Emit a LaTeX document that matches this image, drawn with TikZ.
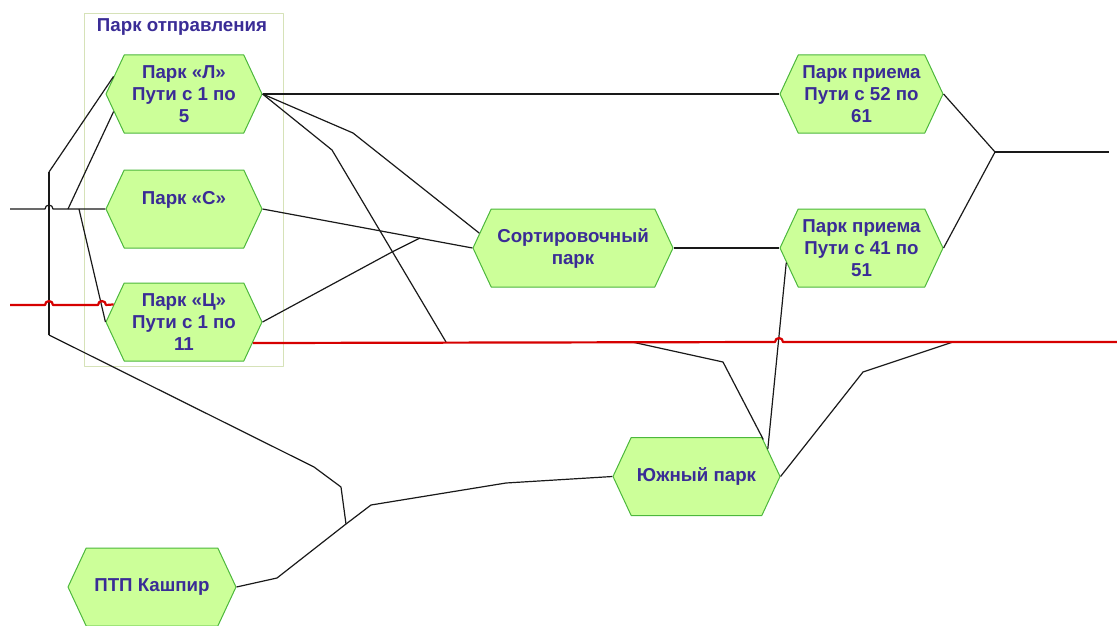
\documentclass[tikz,border=0pt]{standalone}
\usepackage{fontspec}
\setmainfont{Liberation Sans}
\usetikzlibrary{shapes,shapes.symbols,positioning,backgrounds,calc}
\definecolor{parkfill}{RGB}{204,255,153}
\definecolor{parkdraw}{RGB}{76,184,60}
\definecolor{parktext}{RGB}{58,44,150}
\definecolor{boxdraw}{RGB}{214,226,184}
\definecolor{mainline}{RGB}{214,0,0}
\begin{document}
\begin{tikzpicture}[x=1pt,y=-1pt,line join=round,
        park/.style={signal,signal to=east and west,signal pointer angle=130,
          minimum width=156pt,minimum height=78pt,inner sep=0pt,draw=parkdraw,line width=1pt,
          fill=parkfill,text=parktext,align=center,font=\bfseries\fontsize{18.7}{22}\selectfont},
        track/.style={draw=black!90,line width=1.2pt},
        redtrack/.style={draw=mainline,line width=2.2pt}]

        \useasboundingbox (0,0) rectangle (1117,626);

        \draw[boxdraw,line width=1pt] (84,14) rectangle (283,366);
        \node[text=parktext,font=\bfseries\fontsize{18.7}{22}\selectfont] (title) at (182,27) {Парк отправления};

        \node [park]                      (L)    at (184,94)  {Парк «Л»\\Пути с 1 по\\5};
        \node [park]                      (C)    [below of=L,node distance=115pt] {Парк «С»\\ \mbox{}};
        \node [park]                      (Ts)   [below of=C,node distance=113pt] {Парк «Ц»\\Пути с 1 по\\11};
        \node [park,minimum width=200pt]  (Sort) at (573,248) {Сортировочный\\парк};
        \node [park,minimum width=163pt]  (P41)  [right of=Sort,node distance=288.5pt] {Парк приема\\Пути с 41 по\\51};
        \node [park,minimum width=163pt]  (P52)  [above of=P41,node distance=154pt] {Парк приема\\Пути с 52 по\\61};
        \node [park,minimum width=167pt]  (Ug)   at (696.5,476.5) {Южный парк};
        \node [park,minimum width=168pt]  (PTP)  at (152,587) {ПТП Кашпир};

        \coordinate (w1)   at (10,209);
        \coordinate (w2)   at (10,305);
        \coordinate (vt)   at (49,172);
        \coordinate (vb)   at (49,335);
        \coordinate (jn)   at (995,152);
        \coordinate (e1)   at (1109,152);
        \coordinate (e2)   at (1117,342);
        \coordinate (ptpj) at (346,524);

        \path[track]
          (L.east)    edge (P52.west)
          (C.east)    edge (Sort.west)
          (Sort.east) edge (P41.west)
          (P52.east)  edge (jn)
          (P41.east)  edge (jn)
          (jn)        edge (e1)
          (vt)        edge (vb)
          (vt)        edge (L.166)
          (68,209)    edge (L.194)
          (79,209)    edge (Ts.west)
          (Ug.21)     edge (P41.191)
        ;

        \draw[track] (w1) -- (45,209) arc[start angle=180,end angle=360,radius=4] -- (C.west);
        \draw[track] (L.east) -- (332,150) -- (446,342);
        \draw[track] (L.east) -- (353,133) -- (Sort.171);
        \draw[track] (Ts.east) -- (392,252) -- (420,238);
        \draw[track] (632,342) -- (723,362) -- (Ug.29);
        \draw[track] (Ug.east) -- (863,372) -- (953,342);
        \draw[track] (vb) -- (314,467) -- (341,487) -- (ptpj);
        \draw[track] (PTP.east) -- (277,578) -- (ptpj) -- (371,505) -- (506,483) -- (Ug.west);

        \draw[redtrack] (w2) -- (45,305) arc[start angle=180,end angle=360,radius=4]
          -- (98,305) arc[start angle=180,end angle=360,radius=4] -- (Ts.166);
        \draw[redtrack] (Ts.-17) -- (775,342) arc[start angle=180,end angle=360,radius=4] -- (e2);
      \end{tikzpicture}
\end{document}
